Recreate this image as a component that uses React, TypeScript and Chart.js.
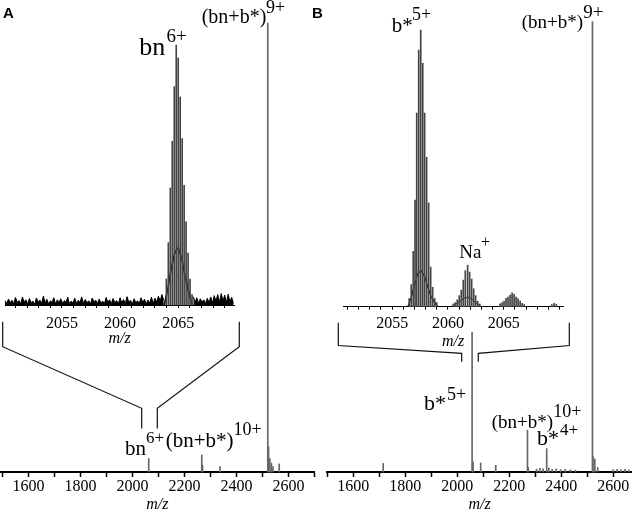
import { useEffect, useRef } from 'react';
import { Chart, registerables } from 'chart.js';

Chart.register(...registerables);

const SERIF = '"Liberation Serif", serif';

// ---------- main spectra (relative intensity, tallest = 100) ----------
const mainAMz = [2062, 2266, 2269, 2336, 2520, 2523, 2528, 2534, 2540, 2564];
const mainAInt = [3.0, 3.8, 1.5, 1.2, 100, 5.6, 3.0, 2.0, 1.2, 1.8];

const mainBMz = [1715, 2057, 2061, 2090, 2148, 2270, 2273, 2305, 2318, 2330, 2344, 2352, 2365, 2380, 2398, 2415, 2435, 2455, 2520, 2522, 2529, 2540, 2600, 2615, 2630, 2645, 2660];
const mainBInt = [1.9, 31, 2.2, 2.0, 1.5, 9.3, 1.0, 0.6, 0.8, 0.7, 5.2, 0.9, 0.6, 0.7, 0.5, 0.6, 0.5, 0.4, 100, 3.5, 2.9, 1.0, 0.5, 0.6, 0.5, 0.6, 0.4];

const mainTicks = [1500, 1600, 1700, 1800, 1900, 2000, 2100, 2200, 2300, 2400, 2500, 2600, 2700];
const mainTickLabels = ['1600', '1800', '2000', '2200', '2400', '2600'];

// ---------- inset A: bn 6+ isotope cluster ----------
const insetAMz = [2063.98, 2064.15, 2064.32, 2064.49, 2064.66, 2064.83, 2065.0, 2065.17, 2065.34, 2065.51, 2065.68, 2065.85, 2066.02, 2066.19];
const insetAInt = [10, 24, 45, 63, 84, 100, 95, 80, 64, 46, 32, 20, 10, 4];
const insetAEnvMz = [2063.8, 2064.1, 2064.4, 2064.7, 2065.0, 2065.3, 2065.6, 2065.9, 2066.2];
const insetAEnvInt = [0, 6, 14, 20, 22, 18, 11, 5, 0];
const noiseAStart = 2050.1;
const noiseARightStart = 2066.3;
const noiseStep = 0.15;
const noiseALeft = [
  1.6, 0.6, 2.3, 0.9, 1.8, 0.4, 2.9, 1.0, 1.7, 0.5,
  3.1, 1.1, 2.0, 0.3, 2.5, 0.9, 1.5, 0.2, 2.7, 1.2,
  1.9, 0.6, 3.4, 0.8, 2.2, 0.4, 1.6, 1.0, 2.8, 0.3,
  2.0, 0.9, 2.4, 0.5, 1.7, 1.1, 3.0, 0.4, 1.5, 0.8,
  2.6, 0.6, 1.8, 1.0, 3.1, 0.5, 2.1, 0.9, 1.6, 0.3,
  2.7, 1.1, 1.9, 0.5, 2.3, 0.8, 1.5, 0.4, 2.9, 1.0,
  2.0, 0.6, 2.5, 0.9, 1.7, 0.4, 2.8, 0.8, 2.1, 0.5,
  3.2, 1.1, 1.8, 0.3, 2.4, 0.9, 1.6, 0.6, 2.8, 1.0,
  2.2, 0.5, 1.9, 0.8, 3.0, 0.6, 2.6, 1.2, 3.4, 1.5,
  4.0, 1.8,
];
const noiseARight = [3.2, 1.0, 2.8, 0.6, 2.4, 1.1, 2.0, 0.5, 2.6, 0.9, 3.1, 0.8, 3.6, 1.4, 4.0, 1.0, 4.4, 1.5, 3.8, 0.9, 4.1, 1.2, 3.0, 0.6];

// ---------- inset B: b* 5+ cluster, Na+ adduct, second adduct ----------
const insetBMainMz = [2056.53, 2056.71, 2056.89, 2057.05, 2057.2, 2057.38, 2057.56, 2057.74, 2057.91, 2058.09, 2058.27, 2058.45, 2058.63, 2058.81, 2058.99];
const insetBMainInt = [3, 8, 20, 38.5, 70, 92.7, 100, 88, 70, 54, 37.5, 14.3, 7, 3, 1.5];
const insetBNaMz = [2060.47, 2060.65, 2060.83, 2061.01, 2061.19, 2061.37, 2061.55, 2061.76, 2061.94, 2062.12, 2062.3, 2062.48, 2062.66, 2062.84];
const insetBNaInt = [1, 1.5, 2.5, 4, 6, 9.6, 13, 15, 12.5, 10, 6.5, 4, 2, 1];
const insetB3Mz = [2064.66, 2064.84, 2065.02, 2065.2, 2065.38, 2065.56, 2065.74, 2065.92, 2066.1, 2066.28, 2066.46, 2066.64, 2066.82, 2069.3, 2069.5, 2069.7];
const insetB3Int = [1, 1.5, 2, 3, 3.5, 4.2, 5, 4.5, 3.5, 2.8, 2, 1.2, 0.8, 0.8, 1.2, 0.9];
const insetBEnvMz = [2056.4, 2056.7, 2057.0, 2057.3, 2057.6, 2057.9, 2058.2, 2058.5, 2058.8, 2059.1];
const insetBEnvInt = [0, 3, 8, 12, 13, 11, 7, 3.5, 1.5, 0];
const insetBNaEnvMz = [2060.4, 2060.9, 2061.4, 2061.8, 2062.2, 2062.6, 2063.0];
const insetBNaEnvInt = [0, 1.5, 3, 3.5, 2.5, 1, 0];

const insetTicks = [2051, 2052, 2053, 2054, 2055, 2056, 2057, 2058, 2059, 2060, 2061, 2062, 2063, 2064, 2065, 2066, 2067, 2068, 2069, 2070];
const insetTickLabels = ['2055', '2060', '2065'];

// ---------- annotations (page coordinates) ----------
const annotations = [
  { base: '(bn+b*)', sup: '9+', bx: 201.7, by: 23.3, bs: 20, sx: 266, sy: 13.3, ss: 18 },
  { base: 'bn', sup: '6+', bx: 139.3, by: 55, bs: 26, sx: 166.5, sy: 42, ss: 19 },
  { base: 'bn', sup: '6+', bx: 125, by: 455, bs: 21, sx: 146, sy: 443, ss: 17 },
  { base: '(bn+b*)', sup: '10+', bx: 165.7, by: 446.7, bs: 21, sx: 233.5, sy: 435, ss: 18 },
  { base: 'b*', sup: '5+', bx: 391.7, by: 31.7, bs: 21, sx: 412, sy: 20, ss: 18 },
  { base: '(bn+b*)', sup: '9+', bx: 521.7, by: 28.3, bs: 19, sx: 583.3, sy: 17.5, ss: 19 },
  { base: 'Na', sup: '+', bx: 459.3, by: 258.3, bs: 19, sx: 481, sy: 246.5, ss: 16 },
  { base: 'b*', sup: '5+', bx: 424, by: 410, bs: 22, sx: 447, sy: 399.5, ss: 18 },
  { base: '(bn+b*)', sup: '10+', bx: 491.7, by: 428.3, bs: 19, sx: 553.3, sy: 416.7, ss: 18 },
  { base: 'b*', sup: '4+', bx: 537, by: 445, bs: 22, sx: 560, sy: 435, ss: 17 },
];

const brackets: number[][][] = [
  [[2.7, 321.7], [2.7, 346.7], [141.7, 408.3], [141.7, 428.5]],
  [[239.3, 321.7], [239.3, 346.7], [157.3, 408.3], [157.3, 428.5]],
  [[338.3, 322.7], [338.3, 345.5], [461.7, 353.3], [461.7, 361.7]],
  [[569.3, 322.7], [569.3, 345.5], [478.3, 353.3], [478.3, 361.7]],
];

const annotationPlugin = {
  id: 'annotations',
  afterDraw(chart: any) {
    const ctx = chart.ctx as CanvasRenderingContext2D;
    ctx.save();
    ctx.fillStyle = '#000';
    ctx.textAlign = 'left';
    ctx.textBaseline = 'alphabetic';
    for (const a of annotations) {
      ctx.font = `${a.bs}px ${SERIF}`;
      ctx.fillText(a.base, a.bx, a.by);
      ctx.font = `${a.ss}px ${SERIF}`;
      ctx.fillText(a.sup, a.sx, a.sy);
    }
    ctx.font = 'bold 15px "Liberation Sans", sans-serif';
    ctx.fillText('A', 3, 17.5);
    ctx.fillText('B', 312, 17.5);
    ctx.strokeStyle = '#111';
    ctx.lineWidth = 1.2;
    for (const poly of brackets) {
      ctx.beginPath();
      poly.forEach(([x, y], i) => (i ? ctx.lineTo(x, y) : ctx.moveTo(x, y)));
      ctx.stroke();
    }
    ctx.restore();
  },
};

function sticks(mz: number[], val: number[], color: string) {
  return {
    type: 'bar',
    data: mz.map((x, i) => ({ x, y: val[i] })),
    backgroundColor: color,
    borderWidth: 0,
    barThickness: 1,
    grouped: false,
    clip: false,
  };
}

function trace(mz: number[], val: number[], color: string, width: number, filled = false) {
  return {
    type: 'line',
    data: mz.map((x, i) => ({ x, y: val[i] })),
    borderColor: color,
    backgroundColor: color,
    borderWidth: width,
    pointRadius: 0,
    tension: 0,
    fill: filled ? 'origin' : false,
    clip: false,
  };
}

function noiseTrace(start: number, vals: number[]) {
  return trace(vals.map((_, i) => start + i * noiseStep), vals, '#000', 1, true);
}

type AxisSpec = {
  min: number; max: number; ticks: number[]; labels: string[];
  tickLength: number; tickWidth: number; borderWidth: number;
  labelPad: number; height: number; titlePad: number;
};

function buildConfig(datasets: any[], padding: any, axis: AxisSpec, yMax: number, plugins: any[] = []) {
  return {
    type: 'bar',
    data: { datasets },
    options: {
      responsive: false,
      animation: false,
      events: [],
      layout: { padding },
      plugins: { legend: { display: false }, tooltip: { enabled: false } },
      scales: {
        x: {
          type: 'linear',
          min: axis.min,
          max: axis.max,
          offset: false,
          grid: {
            drawOnChartArea: false, drawTicks: true, tickLength: axis.tickLength,
            color: '#000', tickWidth: axis.tickWidth, offset: false,
          },
          border: { display: true, color: '#000', width: axis.borderWidth },
          ticks: {
            autoSkip: false, maxRotation: 0, minRotation: 0, padding: axis.labelPad,
            color: '#000', font: { family: SERIF, size: 16 },
            callback: (v: any) => (axis.labels.includes(String(v)) ? String(v) : ''),
          },
          afterBuildTicks: (s: any) => {
            s.ticks = axis.ticks.filter((v) => v >= axis.min && v <= axis.max).map((v) => ({ value: v }));
          },
          afterFit: (s: any) => { s.height = axis.height; },
          title: {
            display: true, text: 'm/z', color: '#000',
            font: { family: SERIF, size: 16, style: 'italic' },
            padding: { top: 0, bottom: axis.titlePad },
          },
        },
        y: { display: false, min: 0, max: yMax },
      },
    },
    plugins,
  } as any;
}

export default function App() {
  const mainARef = useRef<HTMLCanvasElement>(null);
  const mainBRef = useRef<HTMLCanvasElement>(null);
  const insetARef = useRef<HTMLCanvasElement>(null);
  const insetBRef = useRef<HTMLCanvasElement>(null);

  useEffect(() => {
    const charts: Chart[] = [];
    let cancelled = false;

    const build = () => {
      if (cancelled) return;
      charts.push(new Chart(mainARef.current!, buildConfig(
        [sticks(mainAMz, mainAInt, '#666')],
        { left: 0, right: 325.4, top: 23, bottom: 0 },
        { min: 1490, max: 2700, ticks: mainTicks, labels: mainTickLabels, tickLength: 5, tickWidth: 1.5, borderWidth: 2, labelPad: 0, height: 40, titlePad: -2 },
        100,
        [annotationPlugin],
      )));

      charts.push(new Chart(mainBRef.current!, buildConfig(
        [sticks(mainBMz, mainBInt, '#666')],
        { left: 327.3, right: 8.3, top: 21.7, bottom: 0 },
        { min: 1500, max: 2671, ticks: mainTicks, labels: mainTickLabels, tickLength: 5, tickWidth: 1.5, borderWidth: 2, labelPad: 0, height: 40, titlePad: -2 },
        100,
      )));

      charts.push(new Chart(insetARef.current!, buildConfig(
        [
          noiseTrace(noiseAStart, noiseALeft),
          noiseTrace(noiseARightStart, noiseARight),
          sticks(insetAMz, insetAInt, '#444'),
          trace(insetAEnvMz, insetAEnvInt, '#000', 1.6),
        ],
        { left: 5, right: 406, top: 45, bottom: 162 },
        { min: 2050.1, max: 2069.8, ticks: insetTicks, labels: insetTickLabels, tickLength: 3, tickWidth: 1, borderWidth: 1, labelPad: 6, height: 45, titlePad: 1.3 },
        100,
      )));

      charts.push(new Chart(insetBRef.current!, buildConfig(
        [
          sticks(insetBMainMz, insetBMainInt, '#444'),
          sticks(insetBNaMz, insetBNaInt, '#444'),
          sticks(insetB3Mz, insetB3Int, '#444'),
          trace(insetBEnvMz, insetBEnvInt, '#000', 1.2),
          trace(insetBNaEnvMz, insetBNaEnvInt, '#000', 1),
        ],
        { left: 343, right: 77, top: 30, bottom: 162 },
        { min: 2050.6, max: 2070.3, ticks: insetTicks, labels: insetTickLabels, tickLength: 3, tickWidth: 1, borderWidth: 1, labelPad: 4, height: 43.3, titlePad: -1.7 },
        100,
      )));
    };

    const fonts = ['16px "Liberation Serif"', 'italic 16px "Liberation Serif"', 'bold 15px "Liberation Sans"'];
    Promise.all(fonts.map((f) => document.fonts.load(f))).then(build, build);

    return () => {
      cancelled = true;
      charts.forEach((c) => c.destroy());
    };
  }, []);

  const cs: any = { position: 'absolute', left: 0, top: 0, width: 640, height: 512 };
  return (
    <div style={{ position: 'absolute', left: 0, top: 0, width: 640, height: 512, background: '#fff' }}>
      <canvas ref={mainARef} width={640} height={512} style={cs} />
      <canvas ref={mainBRef} width={640} height={512} style={cs} />
      <canvas ref={insetARef} width={640} height={512} style={cs} />
      <canvas ref={insetBRef} width={640} height={512} style={cs} />
    </div>
  );
}
